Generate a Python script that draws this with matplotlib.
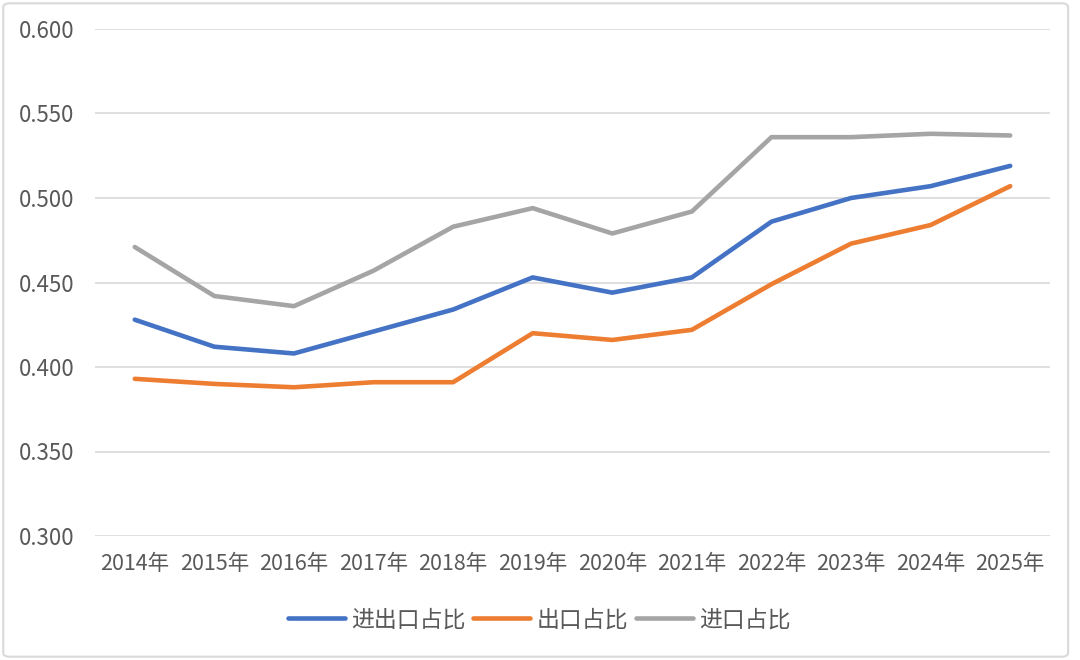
import matplotlib.pyplot as plt
from matplotlib.patches import FancyBboxPatch

plt.rcParams['font.family'] = ['Noto Sans CJK SC', 'DejaVu Sans']

years = ["2014年", "2015年", "2016年", "2017年", "2018年", "2019年",
         "2020年", "2021年", "2022年", "2023年", "2024年", "2025年"]
# 进出口占比
total = [0.428, 0.412, 0.408, 0.421, 0.434, 0.453, 0.444, 0.453, 0.486, 0.500, 0.507, 0.519]
# 出口占比
export = [0.393, 0.390, 0.388, 0.391, 0.391, 0.420, 0.416, 0.422, 0.449, 0.473, 0.484, 0.507]
# 进口占比
imp = [0.471, 0.442, 0.436, 0.457, 0.483, 0.494, 0.479, 0.492, 0.536, 0.536, 0.538, 0.537]
yticks = [0.30, 0.35, 0.40, 0.45, 0.50, 0.55, 0.60]

fig = plt.figure(figsize=(10.8, 6.6), dpi=100)
# rounded outer frame
frame = FancyBboxPatch((0.003, 0.005), 0.986, 0.99, boxstyle="round,pad=0,rounding_size=0.006",
                       transform=fig.transFigure, facecolor="none", edgecolor="#D9D9D9",
                       linewidth=1.5, zorder=-1)
fig.patches.append(frame)

ax = fig.add_axes([95/1080, 1-536/660, 955/1080, 507/660])
ax.set_facecolor("none")
x = range(len(years))
ax.plot(x, total, color="#4472C4", lw=3.3, solid_capstyle="round", solid_joinstyle="round", label="进出口占比")
ax.plot(x, export, color="#ED7D31", lw=3.3, solid_capstyle="round", solid_joinstyle="round", label="出口占比")
ax.plot(x, imp, color="#A5A5A5", lw=3.3, solid_capstyle="round", solid_joinstyle="round", label="进口占比")

ax.set_ylim(0.3, 0.6)
ax.set_xlim(-0.5, len(years)-0.5)
ax.set_yticks(yticks)
ax.set_yticklabels([f"{v:.3f}" for v in yticks])
ax.set_xticks(list(x))
ax.set_xticklabels(years)
ax.grid(axis="y", color="#D9D9D9", lw=1.2)
ax.set_axisbelow(True)
for s in ax.spines.values():
    s.set_visible(False)
ax.tick_params(axis="both", length=0, colors="#595959")
ax.tick_params(axis="y", pad=15, labelsize=16)
ax.tick_params(axis="x", pad=12, labelsize=15.5)

ax.legend(loc="center", bbox_to_anchor=((539-95)/955, (620-536)/-507), ncol=3, frameon=False,
          fontsize=16.5, handlelength=2.5, columnspacing=0.35, handletextpad=0.25, labelcolor="#595959")

fig.savefig("out.png", dpi=100)
